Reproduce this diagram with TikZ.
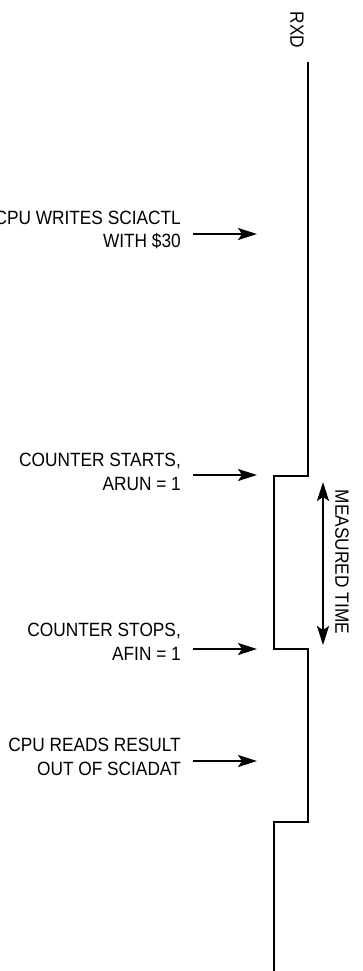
\documentclass[tikz,border=0pt]{standalone}
\usepackage{fontspec}
\setmainfont{Liberation Sans}[FakeStretch=0.9]
\usetikzlibrary{arrows.meta}
\begin{document}
\begin{tikzpicture}[x=1pt,y=-1pt,
  lab/.style={font=\fontsize{19.2}{23.5}\selectfont, align=right, anchor=east, inner sep=0pt},
  vlab/.style={font=\fontsize{19.2}{23.5}\selectfont, rotate=-90, inner sep=0pt},
  arr/.style={line width=1.9pt, -{Stealth[length=19pt,width=12pt,inset=4pt]}},
  darr/.style={line width=1.9pt, {Stealth[length=19pt,width=12pt,inset=4pt]}-{Stealth[length=19pt,width=12pt,inset=4pt]}},
  wave/.style={line width=2.2pt, line join=miter}]
\useasboundingbox (0,0) rectangle (362,971);
% waveform
\coordinate (w0) at (308,62);
\coordinate (w1) at (308,476);
\coordinate (w2) at (274,476);
\coordinate (w3) at (274,649);
\coordinate (w4) at (308,649);
\coordinate (w5) at (308,822);
\coordinate (w6) at (274,822);
\coordinate (w7) at (274,971);
\draw[wave] (w0) -- (w1) -- (w2) -- (w3) -- (w4) -- (w5) -- (w6) -- (w7);
\node[vlab] (rxd) at (297,30) {RXD};
% labels and arrows
\node[lab] (l1) at (181,230) {CPU WRITES SCIACTL\\WITH \$30};
\coordinate (s1) at (193,234); \coordinate (e1) at (257,234);
\draw[arr] (s1) -- (e1);
\node[lab] (l2) at (181,472) {COUNTER STARTS,\\ARUN = 1};
\coordinate (s2) at (193,475); \coordinate (e2) at (257,475);
\draw[arr] (s2) -- (e2);
\node[lab] (l3) at (181,642) {COUNTER STOPS,\\AFIN = 1};
\coordinate (s3) at (193,649); \coordinate (e3) at (257,649);
\draw[arr] (s3) -- (e3);
\node[lab] (l4) at (181,757) {CPU READS RESULT\\OUT OF SCIADAT};
\coordinate (s4) at (193,761); \coordinate (e4) at (257,761);
\draw[arr] (s4) -- (e4);
% measured time
\coordinate (m1) at (323,482); \coordinate (m2) at (323,645);
\draw[darr] (m1) -- (m2);
\node[vlab] (mt) at (342,562) {MEASURED TIME};
\end{tikzpicture}
\end{document}
